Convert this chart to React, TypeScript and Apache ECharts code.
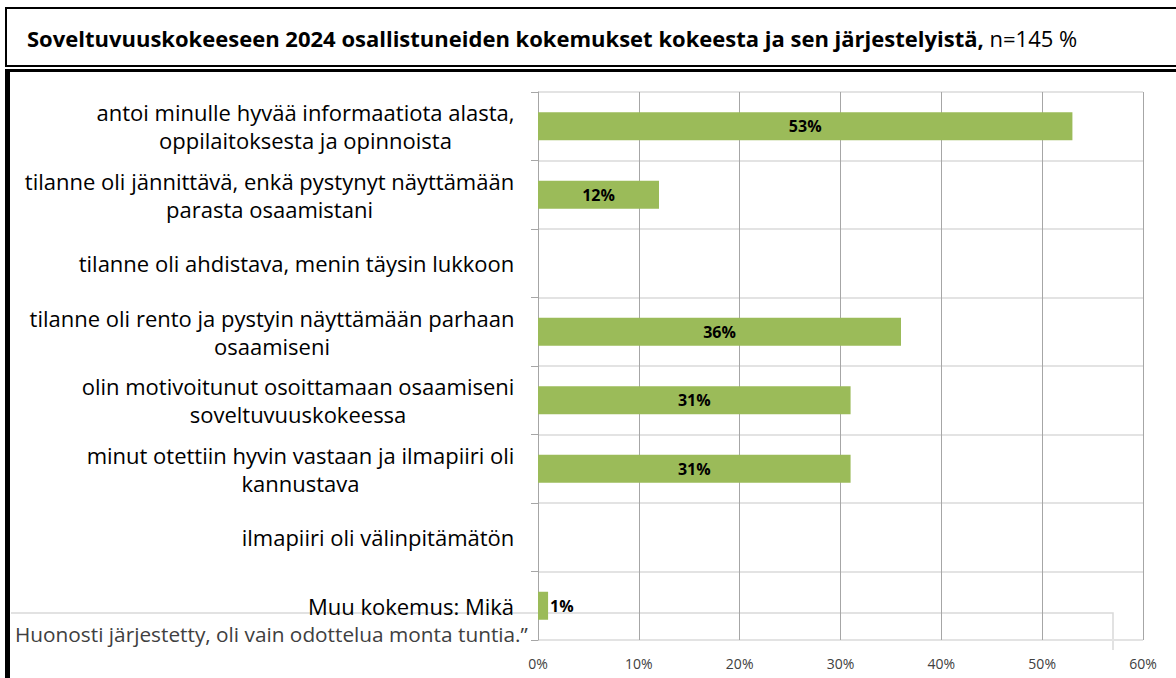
import React, { useEffect, useRef } from "react";
import * as echarts from "echarts";

const categories = [
  "antoi minulle hyvää informaatiota alasta,\noppilaitoksesta ja opinnoista",
  "tilanne oli jännittävä, enkä pystynyt näyttämään\nparasta osaamistani",
  "tilanne oli ahdistava, menin täysin lukkoon",
  "tilanne oli rento ja pystyin näyttämään parhaan\nosaamiseni",
  "olin motivoitunut osoittamaan osaamiseni\nsoveltuvuuskokeessa",
  "minut otettiin hyvin vastaan ja ilmapiiri oli\nkannustava",
  "ilmapiiri oli välinpitämätön",
  "Muu kokemus: Mikä",
];
const values = [53, 12, 0, 36, 31, 31, 0, 1];
const xMin = 0;
const xMax = 60;
const xInterval = 10;

const titleBold = "Soveltuvuuskokeeseen 2024 osallistuneiden kokemukset kokeesta ja sen järjestelyistä,";
const titleNormal = " n=145 %";
const noteText = "Huonosti järjestetty, oli vain odottelua monta tuntia.”";

const FONT = "Open Sans";

function measure(text: string, font: string): number {
  const c = document.createElement("canvas").getContext("2d");
  if (!c) return text.length * 9;
  c.font = font;
  return c.measureText(text).width;
}

function fitSize(text: string, target: number, weight: string): number {
  const w = measure(text, `${weight} 20px "${FONT}"`);
  return Math.round((20 * target) / w * 10) / 10;
}

export default function App() {
  const ref = useRef<HTMLDivElement>(null);
  useEffect(() => {
    if (!ref.current) return;
    const chart = echarts.init(ref.current, undefined, { renderer: "svg" });

    const labelSize = Math.min(22, fitSize(categories[2], 435, "normal"));
    const titleSize = Math.min(23, fitSize(titleBold, 958, "bold"));
    const noteSize = Math.min(22, fitSize(noteText, 513, "normal"));

    const rich: Record<string, any> = {};
    categories.forEach((c, i) => {
      const lines = c.split("\n");
      const w = Math.max(...lines.map((l) => measure(l, `${labelSize}px "${FONT}"`)));
      rich["r" + i] = {
        width: Math.ceil(w) + 1,
        align: "center",
        fontFamily: FONT,
        fontSize: labelSize,
        color: "#000",
        lineHeight: 28,
      };
    });

    chart.setOption({
      animation: false,
      textStyle: { fontFamily: FONT },
      grid: { left: 538, right: 33, top: 92, bottom: 38, containLabel: false },
      xAxis: {
        type: "value",
        min: xMin,
        max: xMax,
        interval: xInterval,
        axisLine: { show: false },
        axisTick: { show: false },
        axisLabel: {
          formatter: "{value}%",
          color: "#404040",
          fontSize: 14,
          fontFamily: FONT,
          margin: 16,
        },
        splitLine: { show: true, lineStyle: { color: "#a6a6a6", width: 1 } },
      },
      yAxis: {
        type: "category",
        inverse: true,
        data: categories,
        axisLine: { show: true, lineStyle: { color: "#a6a6a6", width: 1 } },
        axisTick: { show: true, length: 7, lineStyle: { color: "#a6a6a6" } },
        splitLine: { show: true, lineStyle: { color: "#e3e3e3", width: 2 } },
        axisLabel: {
          align: "right",
          margin: 23,
          formatter: (v: string, i: number) =>
            v
              .split("\n")
              .map((l) => `{r${i}|${l}}`)
              .join("\n"),
          rich,
        },
      },
      series: [
        {
          type: "bar",
          data: values.map((v) => ({
            value: v,
            label:
              v === 0
                ? { show: false }
                : v < 5
                ? { show: true, position: "right", distance: 2 }
                : { show: true, position: "inside" },
          })),
          barWidth: 28,
          itemStyle: { color: "#9bbb59" },
          label: {
            show: true,
            formatter: "{c}%",
            color: "#000",
            fontWeight: "bold",
            fontSize: 16,
            fontFamily: FONT,
          },
        },
      ],
      graphic: [
        {
          type: "rect",
          shape: { x: 6, y: 8, width: 1200, height: 58 },
          style: { fill: "#fff", stroke: "#000", lineWidth: 2 },
          z: 0,
        },
        {
          type: "text",
          x: 27,
          y: 38,
          style: {
            text: `{b|${titleBold}}{n|${titleNormal}}`,
            verticalAlign: "middle",
            rich: {
              b: { fontFamily: FONT, fontWeight: "bold", fontSize: titleSize, fill: "#000" },
              n: { fontFamily: FONT, fontWeight: "normal", fontSize: titleSize, fill: "#000" },
            },
          },
          z: 1,
        },
        {
          type: "rect",
          shape: { x: 5, y: 69, width: 1200, height: 3 },
          style: { fill: "#000" },
          z: 0,
        },
        {
          type: "rect",
          shape: { x: 5, y: 69, width: 5, height: 620 },
          style: { fill: "#000" },
          z: 0,
        },
        {
          type: "polyline",
          shape: { points: [[11, 613], [1113, 613], [1113, 650]] },
          style: { stroke: "#d9d9d9", lineWidth: 1.5, fill: null },
          z: 0,
        },
        {
          type: "text",
          x: 15,
          y: 634,
          style: {
            text: noteText,
            fontFamily: FONT,
            fontSize: noteSize,
            fill: "#404040",
            verticalAlign: "middle",
          },
          z: 1,
        },
      ],
    });
    return () => chart.dispose();
  }, []);
  return (
    <div
      ref={ref}
      style={{ position: "absolute", left: 0, top: 0, width: 1176, height: 678, background: "#fff" }}
    />
  );
}
